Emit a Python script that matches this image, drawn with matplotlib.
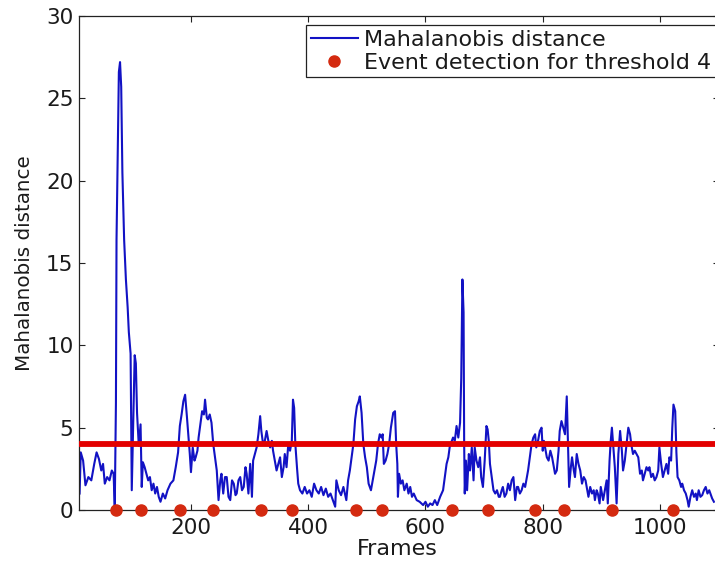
import matplotlib
matplotlib.use("Agg")
import matplotlib.pyplot as plt

# ---------------- data ----------------
frames = [10, 12, 16, 20, 25, 30, 35, 39, 43, 47, 50, 53, 57, 61, 65, 68, 70, 72, 73, 75,
          77, 79, 81, 83, 86, 89, 92, 94, 97, 99, 102, 104, 106, 108, 111, 114, 116, 118, 121, 124,
          127, 130, 133, 136, 139, 142, 145, 148, 152, 156, 160, 165, 170, 174, 178, 181, 184, 187, 190, 193,
          196, 198, 200, 203, 206, 208, 211, 213, 216, 219, 222, 224, 227, 229, 232, 235, 238, 241, 244, 247,
          250, 252, 255, 258, 261, 264, 267, 270, 273, 276, 278, 281, 284, 287, 290, 293, 295, 298, 301, 304,
          306, 309, 312, 315, 318, 320, 323, 326, 329, 332, 335, 338, 340, 343, 346, 349, 352, 355, 358, 360,
          363, 366, 369, 372, 374, 376, 378, 381, 383, 386, 390, 394, 398, 402, 406, 410, 414, 418, 422, 426,
          430, 434, 438, 442, 446, 448, 452, 456, 460, 465, 468, 471, 474, 477, 480, 483, 486, 488, 491, 494,
          497, 500, 503, 507, 510, 513, 516, 519, 522, 525, 527, 529, 532, 535, 538, 541, 545, 548, 550, 552,
          553, 555, 558, 561, 564, 568, 571, 574, 577, 580, 585, 590, 596, 600, 604, 608, 612, 616, 620, 625,
          630, 633, 636, 639, 642, 645, 647, 650, 653, 656, 659, 661, 663, 665, 666, 667, 669, 671, 674, 676,
          679, 682, 684, 687, 690, 693, 695, 698, 701, 704, 706, 708, 710, 713, 716, 719, 722, 725, 727, 730,
          732, 735, 738, 741, 744, 747, 750, 753, 756, 758, 761, 764, 767, 770, 773, 775, 778, 781, 784, 787,
          789, 792, 795, 798, 800, 802, 804, 807, 810, 813, 816, 819, 821, 824, 827, 829, 832, 835, 838, 841,
          843, 845, 848, 850, 853, 855, 858, 861, 864, 867, 870, 873, 876, 878, 881, 884, 887, 889, 892, 894,
          897, 899, 903, 906, 909, 911, 914, 916, 918, 921, 923, 926, 929, 932, 935, 937, 940, 943, 946, 949,
          951, 954, 957, 960, 963, 966, 969, 971, 974, 977, 980, 982, 985, 988, 991, 994, 997, 999, 1002, 1005,
          1008, 1011, 1014, 1016, 1019, 1021, 1023, 1026, 1028, 1030, 1033, 1036, 1038, 1041, 1044, 1047, 1049, 1052, 1055, 1058,
          1061, 1063, 1066, 1069, 1072, 1075, 1078, 1081, 1084, 1087, 1089, 1092]

mahalanobis = [1.0, 3.5, 3.0, 1.5, 2.0, 1.8, 2.8, 3.5, 3.1, 2.4, 2.8, 1.6, 2.0, 1.8, 2.4, 2.2, 0.2, 6.5, 16.4, 21.6,
               26.6, 27.2, 25.7, 20.5, 16.4, 14.0, 12.3, 10.8, 9.5, 1.2, 6.0, 9.4, 8.9, 5.9, 3.9, 5.2, 1.4, 2.9, 2.6, 2.2,
               1.8, 2.0, 1.2, 1.6, 1.0, 1.4, 0.8, 0.5, 1.0, 0.7, 1.2, 1.6, 1.8, 2.6, 3.5, 5.1, 5.8, 6.6, 7.0, 5.7,
               4.3, 3.4, 2.3, 3.8, 3.0, 3.2, 3.6, 4.4, 5.2, 6.0, 5.8, 6.7, 5.6, 5.5, 5.8, 5.3, 4.0, 3.2, 2.4, 0.6,
               1.8, 2.2, 1.0, 2.0, 2.0, 0.8, 0.6, 1.8, 1.6, 0.9, 1.0, 1.8, 2.0, 1.2, 1.4, 2.6, 2.2, 1.0, 2.8, 0.8,
               3.0, 3.4, 3.8, 4.6, 5.7, 4.8, 4.0, 4.2, 4.8, 4.2, 3.8, 4.2, 3.6, 3.0, 2.4, 2.8, 3.2, 2.0, 2.6, 3.4,
               2.6, 4.0, 3.6, 4.2, 6.7, 6.2, 4.0, 2.5, 1.6, 1.2, 1.0, 1.4, 1.0, 1.2, 0.8, 1.6, 1.2, 1.0, 1.4, 0.9,
               1.3, 0.8, 1.0, 0.6, 0.2, 1.8, 1.2, 0.9, 1.4, 0.6, 1.8, 2.4, 3.2, 4.0, 5.5, 6.3, 6.6, 6.9, 5.9, 4.0,
               3.2, 2.6, 1.6, 1.2, 1.8, 2.4, 3.0, 4.0, 4.6, 4.4, 4.6, 2.8, 3.0, 3.4, 4.0, 5.0, 5.9, 6.0, 4.0, 2.8,
               0.8, 2.2, 1.6, 1.8, 1.2, 1.6, 1.0, 1.4, 0.8, 1.0, 0.6, 0.5, 0.3, 0.5, 0.2, 0.4, 0.3, 0.6, 0.3, 0.8,
               1.2, 2.0, 2.8, 3.2, 4.0, 4.2, 4.4, 4.2, 5.1, 4.4, 5.3, 8.0, 14.0, 12.0, 4.0, 1.0, 3.0, 1.2, 3.4, 2.4,
               3.8, 1.8, 3.8, 3.0, 2.6, 3.2, 2.0, 1.4, 3.0, 5.1, 4.9, 4.2, 2.8, 2.0, 1.2, 1.0, 1.2, 0.8, 0.8, 1.2,
               1.4, 0.8, 1.0, 1.6, 1.2, 1.8, 2.0, 0.6, 1.4, 1.4, 1.0, 1.2, 1.6, 1.4, 2.0, 2.4, 3.2, 4.0, 4.4, 4.6,
               3.8, 4.2, 4.8, 5.0, 3.6, 4.2, 3.8, 3.2, 3.0, 3.6, 3.2, 2.6, 2.2, 2.4, 3.6, 4.8, 5.4, 5.0, 4.6, 6.9,
               4.2, 1.4, 2.6, 3.2, 2.4, 2.0, 3.4, 2.8, 2.4, 1.6, 2.0, 1.8, 1.2, 0.8, 1.4, 1.0, 1.2, 0.6, 1.2, 1.0,
               0.4, 1.4, 0.6, 1.2, 1.8, 0.4, 3.0, 4.2, 5.0, 3.6, 2.6, 0.4, 3.4, 4.8, 3.6, 2.4, 3.0, 4.0, 5.0, 4.6,
               4.0, 3.4, 3.6, 3.4, 3.2, 2.2, 2.4, 1.8, 2.2, 2.6, 2.4, 2.6, 2.0, 2.2, 1.8, 2.0, 2.4, 3.8, 2.8, 2.0,
               2.4, 2.8, 2.2, 3.2, 3.0, 5.0, 6.4, 6.0, 3.5, 2.0, 1.8, 1.4, 1.6, 1.2, 1.0, 0.6, 0.2, 0.8, 1.2, 0.8,
               1.0, 0.6, 1.2, 0.8, 0.9, 1.2, 1.4, 1.0, 1.2, 0.9, 0.7, 0.5]

event_frames = [72, 115, 181, 237, 319, 373, 482, 525, 645, 707, 787, 837, 918, 1022]
event_values = [0] * len(event_frames)

threshold = 4
x_ticks = [200, 400, 600, 800, 1000]
y_ticks = [0, 5, 10, 15, 20, 25, 30]

# ---------------- figure ----------------
W, H = 715, 565
fig = plt.figure(figsize=(W / 100, H / 100), dpi=100)
fig.patch.set_facecolor("white")

ax_left, ax_top, ax_bottom = 79, 16, 510
x0, x1 = 9, 1100
px_per_unit = 0.58625
ax_w = (x1 - x0) * px_per_unit
ax = fig.add_axes([ax_left / W, 1 - ax_bottom / H, ax_w / W, (ax_bottom - ax_top) / H])

blue = "#1212c4"
line_red = "#e30000"
dot_red = "#d42a10"

ax.plot(frames, mahalanobis, color=blue, lw=1.5, label="Mahalanobis distance", zorder=2)
ax.axhline(threshold, color=line_red, lw=4.2, zorder=3)
ax.plot(event_frames, event_values, linestyle="none", marker="o", markersize=8,
        color=dot_red, markeredgecolor=dot_red, label="Event detection for threshold 4",
        clip_on=False, zorder=5)

ax.set_xlim(x0, x1)
ax.set_ylim(0, 30)
ax.set_xticks(x_ticks)
ax.set_yticks(y_ticks)

tick_font = dict(family="DejaVu Sans", size=15.5)
ax.tick_params(axis="both", direction="in", length=4, width=0.8, color="#222222",
               top=True, right=True, labelsize=15.5, labelcolor="#1a1a1a")
ax.tick_params(axis="x", pad=5.5)
ax.tick_params(axis="y", pad=4)
for lab in ax.get_xticklabels() + ax.get_yticklabels():
    lab.set_family("DejaVu Sans")

for s in ax.spines.values():
    s.set_color("#222222")
    s.set_linewidth(0.9)

ax.set_xlabel("Frames", fontsize=16, family="DejaVu Sans", color="#1a1a1a")
ax.xaxis.set_label_coords(0.497, -0.058)
ax.set_ylabel("Mahalanobis distance", fontsize=14.3, family="DejaVu Sans", color="#1a1a1a")
ax.yaxis.set_label_coords(-0.07, 0.5)

leg = ax.legend(loc="upper left", bbox_to_anchor=(306 / W, 1 - 25 / H),
                bbox_transform=fig.transFigure, borderaxespad=0,
                prop={"family": "DejaVu Sans", "size": 16},
                handlelength=2.1, handletextpad=0.3, labelspacing=0.12,
                borderpad=0.22, fancybox=False, framealpha=1, edgecolor="#222222")
leg.get_frame().set_linewidth(0.9)
for t in leg.get_texts():
    t.set_color("#1a1a1a")

fig.savefig("out.png", dpi=100, facecolor="white")
